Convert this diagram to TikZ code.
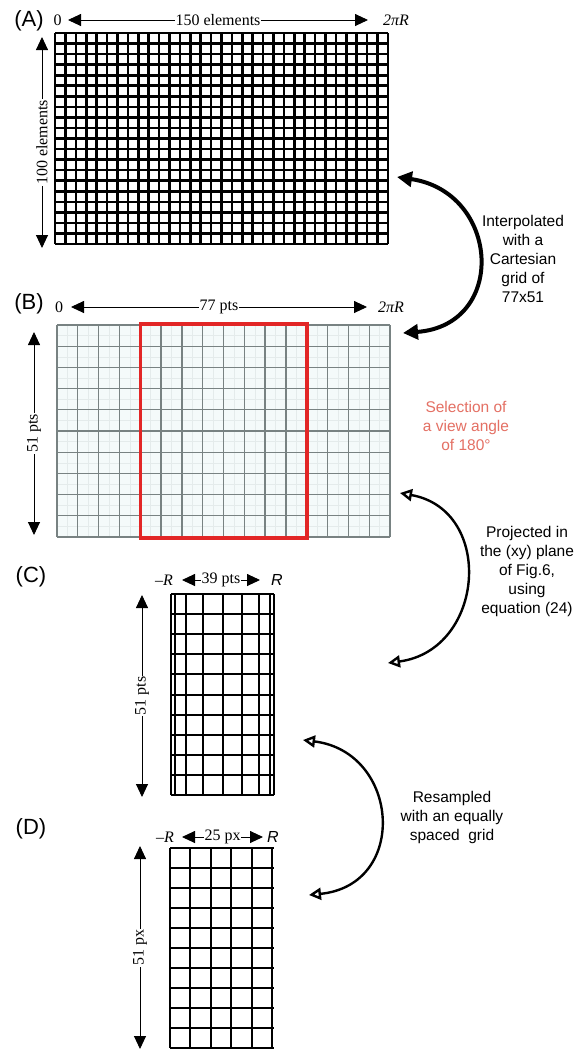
\documentclass[tikz,border=0pt]{standalone}
\usepackage{fontspec}
\setmainfont{Liberation Serif}
\setsansfont{Liberation Sans}
\usetikzlibrary{arrows.meta}
\definecolor{redbox}{RGB}{226,38,38}
\definecolor{selred}{RGB}{228,112,100}
\definecolor{gridgray}{RGB}{120,130,130}
\definecolor{gridbg}{RGB}{244,250,250}
\definecolor{finegray}{RGB}{228,235,235}
\tikzset{
  dimarrow/.style={line width=0.9pt, {Triangle[length=13pt,width=12pt]}-{Triangle[length=13pt,width=12pt]}},
  dimlabel/.style={fill=white, inner sep=1pt, font=\fontsize{16}{16}\selectfont},
  endlabel/.style={inner sep=0pt, font=\fontsize{16}{16}\selectfont},
  panel/.style={font=\sffamily\fontsize{22}{22}\selectfont, inner sep=0pt},
  note/.style={font=\sffamily\fontsize{15.5}{19}\selectfont, align=center, inner sep=0pt},
  boldgrid/.style={line width=2pt, black},
  heavygrid/.style={line width=2.6pt, black},
  softgrid/.style={line width=1.3pt, gridgray},
  finegrid/.style={line width=0.4pt, finegray},
  thickcurve/.style={line width=4pt, {Triangle[length=15pt,width=15pt]}-{Triangle[length=15pt,width=15pt]}},
  opencurve/.style={line width=2.4pt, {Triangle[open,fill=white,length=12pt,width=12pt]}-{Triangle[open,fill=white,length=12pt,width=12pt]}},
}
\begin{document}
\begin{tikzpicture}[x=1pt,y=-1pt]
\useasboundingbox[fill=white] (0,0) rectangle (586,1053);

% ---------------- Panel A ----------------
\node[panel] (labA) at (29,21) {(A)};
\foreach \i in {0,...,32} \draw[heavygrid] ({55+\i*333/32},33) -- ++(0,211);
\foreach \j in {0,...,20} \draw[heavygrid] (55,{33+\j*211/20}) -- ++(333,0);
\node[endlabel] (a0) at (57.5,20) {0};
\node[endlabel] (a2pi) at (396,20) {\textit{2πR}};
\coordinate (ahL) at (68,20);
\coordinate (ahR) at (368,20);
\draw[dimarrow] (ahL) -- (ahR) node[dimlabel, midway] (ahlab) {150 elements};
\coordinate (avT) at (42,37);
\coordinate (avB) at (42,248);
\draw[dimarrow] (avT) -- (avB) node[dimlabel, midway, rotate=90] (avlab) {100 elements};

% ---------------- Panel B ----------------
\node[panel] (labB) at (29,304) {(B)};
\fill[gridbg] (57,325) rectangle (390,537);
\foreach \i in {0,...,15} \draw[finegrid] ({57+(\i+0.5)*333/16},325) -- ++(0,212);
\foreach \j in {0,...,9} \draw[finegrid] (57,{325+(\j+0.5)*21.2}) -- ++(333,0);
\foreach \i in {0,...,16} \draw[softgrid] ({57+\i*333/16},325) -- ++(0,212);
\foreach \j in {0,...,10} \draw[softgrid] (57,{325+\j*21.2}) -- ++(333,0);
\draw[redbox, line width=3.5pt] ({57+4*333/16},324) rectangle ({57+12*333/16},538);
\node[endlabel] (b0) at (59,307) {0};
\node[endlabel] (b2pi) at (391,307) {\textit{2πR}};
\coordinate (bhL) at (71,307);
\coordinate (bhR) at (367,307);
\draw[dimarrow] (bhL) -- (bhR) node[dimlabel, midway] (bhlab) {77 pts};
\coordinate (bvT) at (34,332);
\coordinate (bvB) at (34,535);
\draw[dimarrow] (bvT) -- (bvB) node[dimlabel, midway, rotate=90] (bvlab) {51 pts};
\node[note, text=selred] (sel) at (466,426) {Selection of\\a view angle\\of 180°};

% ---------------- Panel C ----------------
\node[panel] (labC) at (31,577) {(C)};
\foreach \k in {0,...,8} \draw[boldgrid] ({222.5+51.5*sin(-90+22.5*\k)},594) -- ++(0,201);
\foreach \j in {0,...,10} \draw[boldgrid] (171,{594+\j*20.1}) -- (274,{594+\j*20.1});
\node[endlabel] (cmR) at (164,580) {–\textit{R}};
\node[endlabel, font=\sffamily\itshape\fontsize{16}{16}\selectfont] (cR) at (277,580) {R};
\coordinate (chL) at (182,580);
\coordinate (chR) at (260,580);
\draw[dimarrow] (chL) -- (chR) node[dimlabel, midway, inner sep=0.5pt] (chlab) {39 pts};
\coordinate (cvT) at (142,595);
\coordinate (cvB) at (142,797);
\draw[dimarrow] (cvT) -- (cvB) node[dimlabel, midway, rotate=90] (cvlab) {51 pts};

% ---------------- Panel D ----------------
\node[panel] (labD) at (31,829) {(D)};
\foreach \i in {0,...,5} \draw[boldgrid] ({170+\i*20.4},848) -- ++(0,200);
\foreach \j in {0,...,10} \draw[boldgrid] (170,{848+\j*20}) -- (274,{848+\j*20});
\node[endlabel] (dmR) at (165,837) {–\textit{R}};
\node[endlabel, font=\sffamily\itshape\fontsize{16}{16}\selectfont] (dR) at (273,837) {R};
\coordinate (dhL) at (182,837);
\coordinate (dhR) at (263,837);
\draw[dimarrow] (dhL) -- (dhR) node[dimlabel, midway, inner sep=0.5pt] (dhlab) {25 px};
\coordinate (dvT) at (140,846);
\coordinate (dvB) at (140,1049);
\draw[dimarrow] (dvT) -- (dvB) node[dimlabel, midway, rotate=90] (dvlab) {51 px};

% ---------------- Curved connectors and notes ----------------
\coordinate (k1a) at (397,177);
\coordinate (k1b) at (403,333);
\draw[thickcurve] (k1a) .. controls (500,192) and (508,325) .. (k1b);
\node[note] (n1) at (523,259) {Interpolated\\with a\\Cartesian\\grid of\\77x51};

\coordinate (k2a) at (400,493);
\coordinate (k2b) at (388,663);
\draw[opencurve] (k2a) .. controls (495,510) and (485,650) .. (k2b);
\node[note] (n2) at (527,571) {Projected in\\the (xy) plane\\of Fig.6,\\using\\equation (24)};

\coordinate (k3a) at (303,740);
\coordinate (k3b) at (309,895);
\draw[opencurve] (k3a) .. controls (400,752) and (409,885) .. (k3b);
\node[note] (n3) at (452,817) {Resampled\\with an equally\\spaced\ \ grid};
\end{tikzpicture}
\end{document}
